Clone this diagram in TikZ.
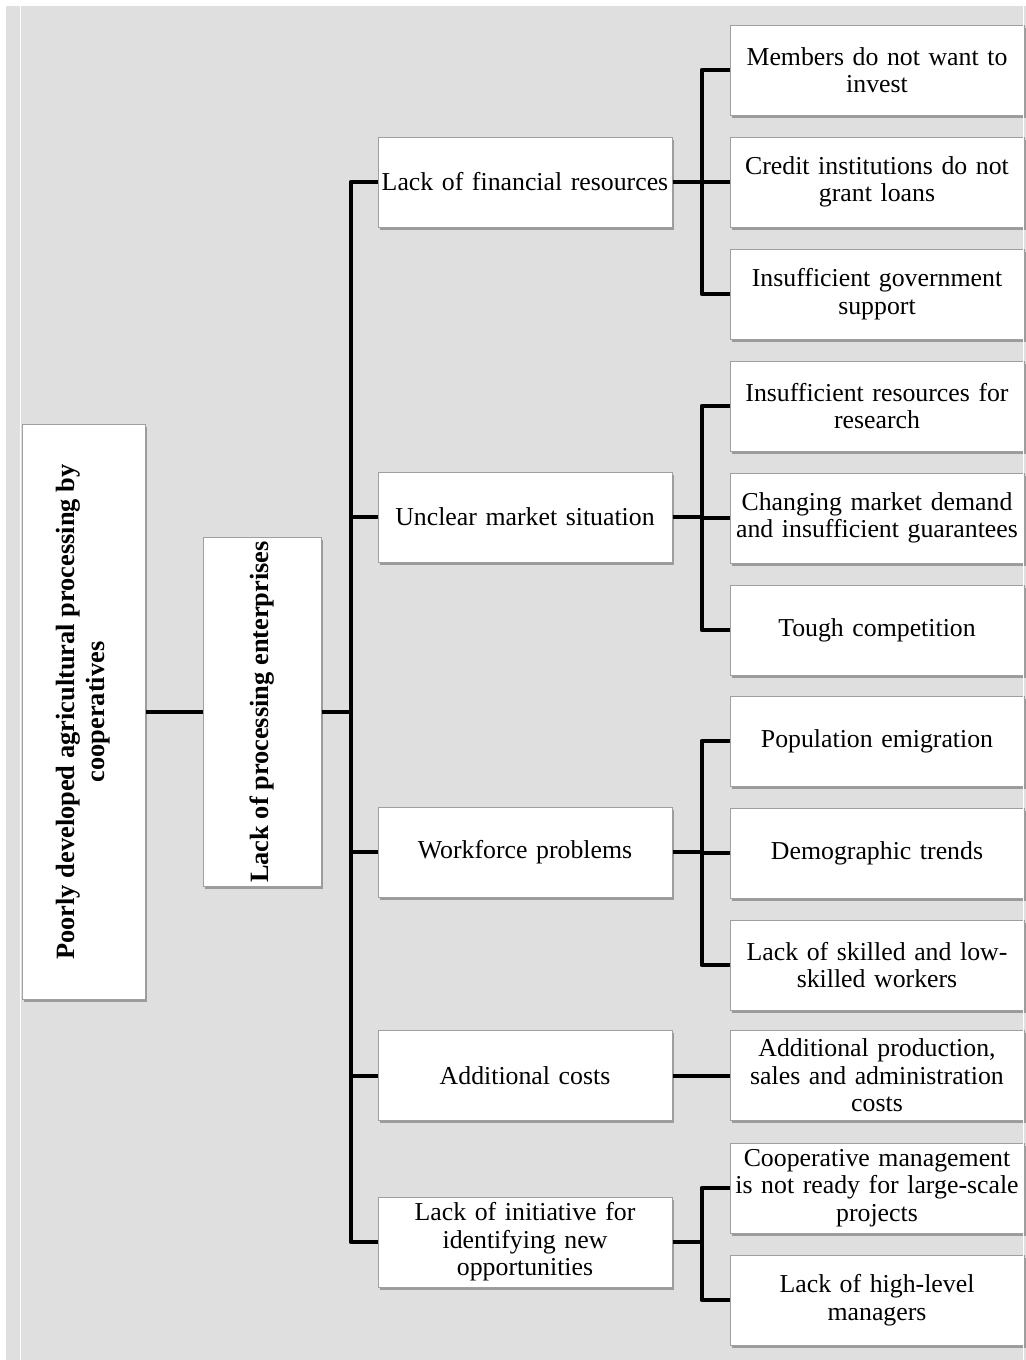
\documentclass[tikz,border=0pt]{standalone}
\usepackage{fontspec}
\setmainfont{Liberation Serif}
\usetikzlibrary{shadows}
\tikzset{
  box/.style={draw=gray!75,fill=white,line width=0.5pt,align=center,inner sep=1pt,
    font=\fontsize{12.9}{13.8}\selectfont,
    drop shadow={shadow xshift=1.2pt,shadow yshift=-1.3pt,fill=black,opacity=0.3}},
  causebox/.style={box,minimum width=147pt,minimum height=45pt,text width=145pt},
  reasonbox/.style={box,minimum width=146pt,minimum height=45pt,text width=145pt},
  link/.style={line width=2pt,line join=round}
}
\begin{document}
\begin{tikzpicture}[x=0.5pt,y=-0.5pt]
  \useasboundingbox (0,0) rectangle (1026,1360);
  \fill [white] (0,0) rectangle (1026,1360);
  \fill [gray!25] (6,6) rectangle (1026,1360);
  % main problem and its reason
  \node [box,minimum width=61.5pt,minimum height=287.5pt] (root) at (83.5,712)
    {\rotatebox{90}{\fontsize{13.2}{15}\selectfont\bfseries\begin{tabular}{@{}c@{}}Poorly developed agricultural processing by\\cooperatives\end{tabular}}};
  \node [box,minimum width=59pt,minimum height=174.5pt,inner sep=0pt] (lpe) at (262,712)
    {\rotatebox{90}{\fontsize{13.2}{15}\selectfont\bfseries Lack of processing enterprises}};
  % causes
  \node [causebox] (fin) at (525,182) {Lack of financial resources};
  \node [causebox] (mkt) at (525,517) {Unclear market situation};
  \node [causebox] (wrk) at (525,852) {Workforce problems};
  \node [causebox] (cst) at (525,1075.5) {Additional costs};
  \node [causebox] (ini) at (525,1242) {Lack of initiative for\\identifying new\\opportunities};
  % detailed reasons
  \node [reasonbox] (fin1) at (877,70) {Members do not want to\\invest};
  \node [reasonbox] (fin2) at (877,182) {Credit institutions do not\\grant loans};
  \node [reasonbox] (fin3) at (877,294) {Insufficient government\\support};
  \node [reasonbox] (mkt1) at (877,406) {Insufficient resources for\\research};
  \node [reasonbox] (mkt2) at (877,518) {Changing market demand\\and insufficient guarantees};
  \node [reasonbox] (mkt3) at (877,630) {Tough competition};
  \node [reasonbox] (wrk1) at (877,741) {Population emigration};
  \node [reasonbox] (wrk2) at (877,853) {Demographic trends};
  \node [reasonbox] (wrk3) at (877,965) {Lack of skilled and low-\\skilled workers};
  \node [reasonbox] (cst1) at (877,1075.5) {Additional production,\\sales and administration\\costs};
  \node [reasonbox] (ini1) at (877,1188) {Cooperative management\\is not ready for large-scale\\projects};
  \node [reasonbox] (ini2) at (877,1300) {Lack of high-level\\managers};
  % connectors
  \draw [link] (root.east) -- (lpe.west);
  \foreach \c in {fin,mkt,wrk,cst,ini}
    \draw [link] (lpe.east) -- ++(14.5pt,0) |- (\c.west);
  \foreach \c/\r in {fin/fin1,fin/fin2,fin/fin3,mkt/mkt1,mkt/mkt2,mkt/mkt3,
                     wrk/wrk1,wrk/wrk2,wrk/wrk3,cst/cst1,ini/ini1,ini/ini2}
    \draw [link] (\c.east) -- ++(14.5pt,0) |- (\r.west);
  % frame lines
  \draw [white,line width=0.8pt] (20.5,6) -- (20.5,1360) (1023.5,6) -- (1023.5,1360);
\end{tikzpicture}
\end{document}
